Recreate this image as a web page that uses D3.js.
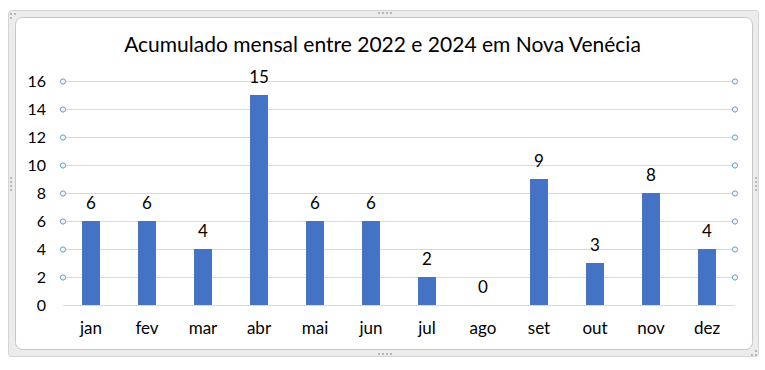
<!DOCTYPE html>
<html>
<head>
<meta charset="utf-8">
<script src="https://cdn.jsdelivr.net/npm/d3@7"></script>
<style>
  html, body { margin: 0; padding: 0; background: #ffffff; }
  svg { display: block; font-family: Lato, "Open Sans", sans-serif; }
</style>
</head>
<body>
<svg id="chart" width="765" height="370"></svg>
<script>
// Monthly accumulated counts, 2022–2024
const months = ["jan", "fev", "mar", "abr", "mai", "jun", "jul", "ago", "set", "out", "nov", "dez"];
const values = [6, 6, 4, 15, 6, 6, 2, 0, 9, 3, 8, 4];
const yTicks = [0, 2, 4, 6, 8, 10, 12, 14, 16];
const titleText = "Acumulado mensal entre 2022 e 2024 em Nova Venécia";

const svg = d3.select("#chart");

// Chart frame: gray border with a rounded white panel
svg.append("rect")
  .attr("x", 8.5).attr("y", 10.5).attr("width", 750).attr("height", 346)
  .attr("rx", 3)
  .attr("fill", "#ececec").attr("stroke", "#d4d4d4");
svg.append("rect")
  .attr("x", 15.5).attr("y", 17.5).attr("width", 737).attr("height", 332)
  .attr("rx", 7)
  .attr("fill", "#ffffff").attr("stroke", "#c6c6c6");

// Small grip dots on the frame
const grip = svg.append("g").attr("fill", "#b8b8b8");
[378, 382, 386, 390].forEach(x => {
  grip.append("rect").attr("x", x).attr("y", 12).attr("width", 2).attr("height", 2);
  grip.append("rect").attr("x", x).attr("y", 353).attr("width", 2).attr("height", 2);
});
[177, 181, 185, 189].forEach(y => {
  grip.append("rect").attr("x", 10).attr("y", y).attr("width", 2).attr("height", 2);
  grip.append("rect").attr("x", 755).attr("y", y).attr("width", 2).attr("height", 2);
});
[[10, 13], [14, 13], [10, 17]].forEach(([x, y]) => {
  grip.append("rect").attr("x", x).attr("y", y).attr("width", 2).attr("height", 2);
});
[[755, 350], [751, 354], [755, 354]].forEach(([x, y]) => {
  grip.append("rect").attr("x", x).attr("y", y).attr("width", 2).attr("height", 2);
});

// Scales
const x = d3.scaleBand()
  .domain(months)
  .range([63, 735])
  .paddingInner(0.68)
  .paddingOuter(0.34);

const y = d3.scaleLinear()
  .domain([0, 16])
  .range([305, 81]);

// Horizontal gridlines
svg.append("g")
  .selectAll("line")
  .data(yTicks)
  .join("line")
  .attr("x1", 63).attr("x2", 735)
  .attr("y1", d => Math.round(y(d)) + 0.5)
  .attr("y2", d => Math.round(y(d)) + 0.5)
  .attr("stroke", "#d9d9d9")
  .attr("stroke-width", 1);

// Gridline handles at both ends
const handles = svg.append("g");
yTicks.filter(d => d > 0).forEach(d => {
  [63, 735].forEach(hx => {
    handles.append("circle")
      .attr("cx", hx).attr("cy", Math.round(y(d)) + 0.5)
      .attr("r", 2.6)
      .attr("fill", "#ffffff")
      .attr("stroke", "#5b9bd5")
      .attr("stroke-width", 1);
  });
});

// Y axis tick labels
svg.append("g")
  .selectAll("text")
  .data(yTicks)
  .join("text")
  .attr("x", 46)
  .attr("y", d => y(d))
  .attr("dy", "0.36em")
  .attr("text-anchor", "end")
  .attr("font-size", 16)
  .attr("fill", "#000000")
  .text(d => d);

// Bars
svg.append("g")
  .selectAll("rect")
  .data(months.map((m, i) => ({ m, v: values[i] })))
  .join("rect")
  .attr("x", d => x(d.m))
  .attr("width", x.bandwidth())
  .attr("y", d => y(d.v))
  .attr("height", d => y(0) - y(d.v))
  .attr("fill", "#4472c4");

// Data labels above bars
svg.append("g")
  .selectAll("text")
  .data(months.map((m, i) => ({ m, v: values[i] })))
  .join("text")
  .attr("x", d => x(d.m) + x.bandwidth() / 2)
  .attr("y", d => y(d.v) - 12)
  .attr("text-anchor", "middle")
  .attr("font-size", 17)
  .attr("fill", "#000000")
  .text(d => d.v);

// Category labels
svg.append("g")
  .selectAll("text")
  .data(months)
  .join("text")
  .attr("x", d => x(d) + x.bandwidth() / 2)
  .attr("y", 334)
  .attr("text-anchor", "middle")
  .attr("font-size", 17)
  .attr("fill", "#000000")
  .text(d => d);

// Title, sized to span the panel width it occupies
const title = svg.append("text")
  .attr("x", 382.5)
  .attr("y", 52)
  .attr("text-anchor", "middle")
  .attr("font-size", 21)
  .attr("fill", "#000000")
  .text(titleText);
const tw = title.node().getComputedTextLength();
title.attr("font-size", 21 * 517 / tw);
</script>
</body>
</html>
